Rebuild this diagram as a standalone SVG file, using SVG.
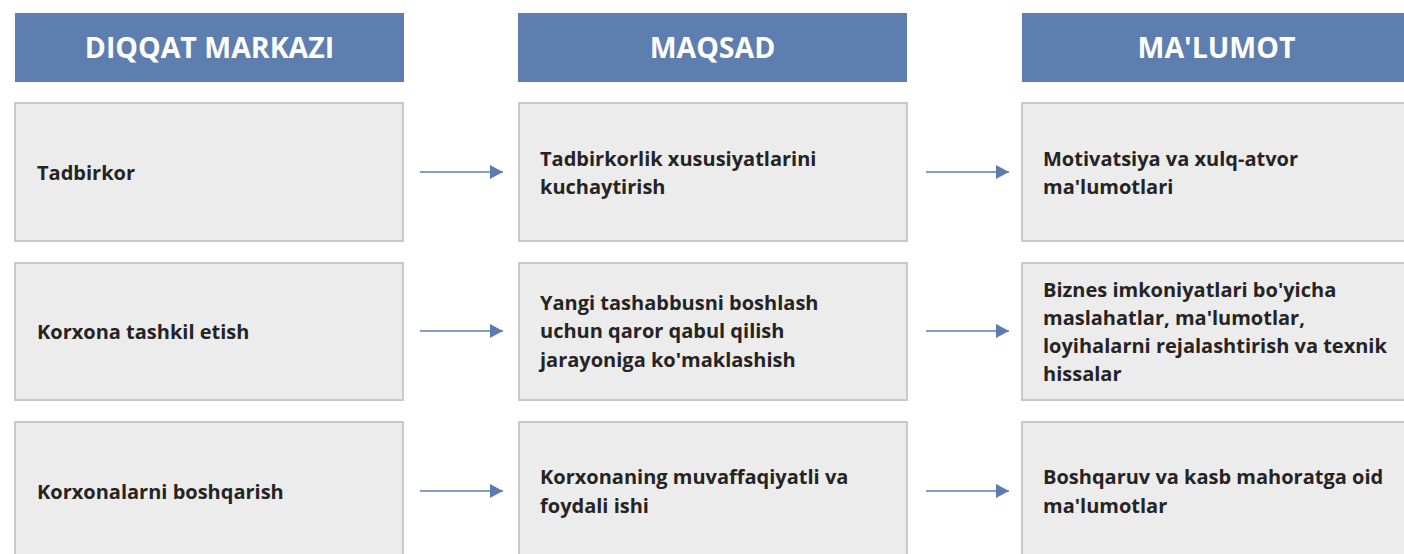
<svg xmlns="http://www.w3.org/2000/svg" width="1404" height="554" viewBox="0 0 1404 554">
<defs>
<style>
.hdr{fill:#5d7eae;}
.box{fill:#ebeceb;stroke:#c9c9c9;stroke-width:2;}
.ht{font-family:"Open Sans","Liberation Sans",sans-serif;font-weight:700;font-size:28.5px;fill:#ffffff;text-anchor:middle;}
.bt{font-family:"Open Sans","Liberation Sans",sans-serif;font-weight:700;font-size:20px;fill:#262324;}
.arr{stroke:#5b7cb0;stroke-width:1.6;fill:none;marker-end:url(#ah);}
</style>
<marker id="ah" viewBox="0 0 13 14" refX="13" refY="7" markerWidth="13" markerHeight="14" markerUnits="userSpaceOnUse" orient="auto">
<path d="M0,0 L13,7 L0,14 Z" fill="#5b7cb0"/>
</marker>
</defs>
<rect width="1404" height="554" fill="#ffffff"/>

<g id="h1"><rect class="hdr" x="15" y="13" width="389" height="69"/><text class="ht" x="209.5" y="58">DIQQAT MARKAZI</text></g>
<g id="h2"><rect class="hdr" x="518" y="13" width="389" height="69"/><text class="ht" x="712.5" y="58">MAQSAD</text></g>
<g id="h3"><rect class="hdr" x="1022" y="13" width="389" height="69"/><text class="ht" x="1216.5" y="58">MA'LUMOT</text></g>

<g id="n11"><rect class="box" x="15" y="103" width="388" height="138"/><text class="bt" x="37" y="180">Tadbirkor</text></g>
<g id="n12"><rect class="box" x="519" y="103" width="388" height="138"/><text class="bt" x="540"><tspan x="540" y="166">Tadbirkorlik xususiyatlarini</tspan><tspan x="540" y="194">kuchaytirish</tspan></text></g>
<g id="n13"><rect class="box" x="1022" y="103" width="400" height="138"/><text class="bt"><tspan x="1043" y="166">Motivatsiya va xulq-atvor</tspan><tspan x="1043" y="194">ma'lumotlari</tspan></text></g>

<g id="n21"><rect class="box" x="15" y="263" width="388" height="137"/><text class="bt" x="37" y="339">Korxona tashkil etish</text></g>
<g id="n22"><rect class="box" x="519" y="263" width="388" height="137"/><text class="bt"><tspan x="540" y="310">Yangi tashabbusni boshlash</tspan><tspan x="540" y="338">uchun qaror qabul qilish</tspan><tspan x="540" y="367">jarayoniga ko'maklashish</tspan></text></g>
<g id="n23"><rect class="box" x="1022" y="263" width="400" height="137"/><text class="bt"><tspan x="1043" y="297">Biznes imkoniyatlari bo'yicha</tspan><tspan x="1043" y="325">maslahatlar, ma'lumotlar,</tspan><tspan x="1043" y="353">loyihalarni rejalashtirish va texnik</tspan><tspan x="1043" y="381">hissalar</tspan></text></g>

<g id="n31"><rect class="box" x="15" y="422" width="388" height="140"/><text class="bt" x="37" y="499">Korxonalarni boshqarish</text></g>
<g id="n32"><rect class="box" x="519" y="422" width="388" height="140"/><text class="bt"><tspan x="540" y="484">Korxonaning muvaffaqiyatli va</tspan><tspan x="540" y="513">foydali ishi</tspan></text></g>
<g id="n33"><rect class="box" x="1022" y="422" width="400" height="140"/><text class="bt"><tspan x="1043" y="484">Boshqaruv va kasb mahoratga oid</tspan><tspan x="1043" y="513">ma'lumotlar</tspan></text></g>

<g id="connectors">
<line class="arr" x1="420" y1="172" x2="503" y2="172"/>
<line class="arr" x1="926" y1="172" x2="1009" y2="172"/>
<line class="arr" x1="420" y1="331" x2="503" y2="331"/>
<line class="arr" x1="926" y1="331" x2="1009" y2="331"/>
<line class="arr" x1="420" y1="491" x2="503" y2="491"/>
<line class="arr" x1="926" y1="491" x2="1009" y2="491"/>
</g>
</svg>
